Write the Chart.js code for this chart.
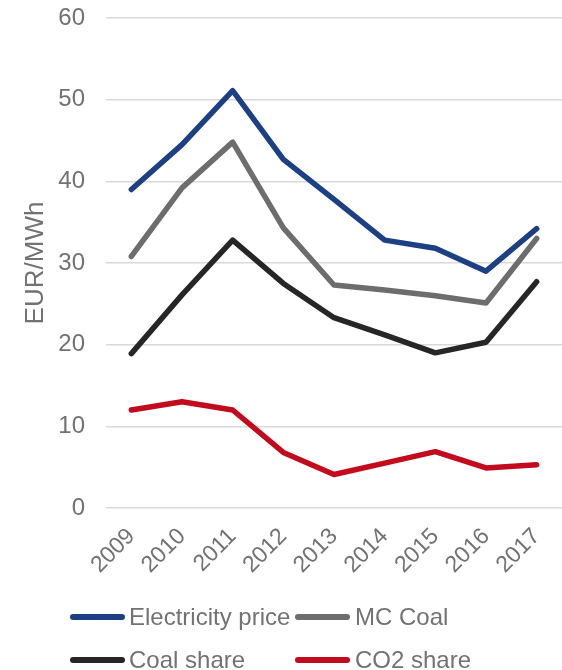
<!DOCTYPE html>
<html>
<head>
<meta charset="utf-8">
<script src="https://cdn.jsdelivr.net/npm/chart.js@4"></script>
<style>
  html, body { margin: 0; padding: 0; background: #ffffff; }
  #wrap { position: relative; width: 562px; height: 670px; }
  #c { position: absolute; left: 0; top: 0; }
  .leg { position: absolute; font-family: "Liberation Sans", Arial, sans-serif; font-size: 24px; color: #727272; white-space: nowrap; line-height: 1; }
  .sw { position: absolute; height: 6px; border-radius: 3px; }
</style>
</head>
<body>
<div id="wrap">
  <canvas id="c" width="562" height="670"></canvas>
  <div id="legend"></div>
</div>
<script>
const years = ["2009","2010","2011","2012","2013","2014","2015","2016","2017"];
const electricityPrice = [39.0, 44.5, 51.1, 42.7, 37.8, 32.8, 31.8, 29.0, 34.2];
const mcCoal = [30.8, 39.2, 44.8, 34.3, 27.3, 26.7, 26.0, 25.1, 33.0];
const coalShare = [18.9, 26.1, 32.8, 27.5, 23.3, 21.2, 19.0, 20.3, 27.7];
const co2Share = [12.0, 13.0, 12.0, 6.8, 4.1, 5.5, 6.9, 4.9, 5.3];
const seriesNames = ["Electricity price", "MC Coal", "Coal share", "CO2 share"];
const seriesColors = ["#1d3f84", "#6d6d6d", "#262626", "#c20b1d"];
const yTicks = [0, 10, 20, 30, 40, 50, 60];

const FONT = "'Liberation Sans', Arial, sans-serif";
const TXT = "#727272";

const seriesData = [electricityPrice, mcCoal, coalShare, co2Share];
const datasets = seriesData.map((d, i) => ({
  label: seriesNames[i],
  data: d,
  borderColor: seriesColors[i],
  backgroundColor: seriesColors[i],
  borderWidth: 5.5,
  pointRadius: 0,
  tension: 0,
  fill: false,
  borderCapStyle: 'round',
  borderJoinStyle: 'round'
}));

new Chart(document.getElementById('c'), {
  type: 'line',
  data: { labels: years, datasets: datasets },
  options: {
    responsive: false,
    animation: false,
    layout: { padding: { top: 18, right: 0, bottom: 92, left: 0 } },
    plugins: { legend: { display: false }, tooltip: { enabled: false } },
    scales: {
      x: {
        offset: true,
        grid: { display: false, drawTicks: false },
        border: { display: false },
        ticks: {
          color: TXT,
          font: { family: FONT, size: 23 },
          minRotation: 45, maxRotation: 45,
          padding: 15,
          autoSkip: false
        },
        afterFit: (s) => { s.height = 70; s.paddingLeft = 0; s.paddingRight = 0; }
      },
      y: {
        min: 0, max: 60,
        afterBuildTicks: (s) => { s.ticks = yTicks.map(v => ({ value: v })); },
        grid: { color: '#d9d9d9', lineWidth: 1.5, drawTicks: false },
        border: { display: false },
        ticks: { color: TXT, font: { family: FONT, size: 24 }, padding: 21 },
        title: { display: true, text: 'EUR/MWh', color: TXT, font: { family: FONT, size: 26 }, padding: { top: 20, bottom: 0 } },
        afterFit: (s) => { s.width = 106; s.paddingTop = 0; s.paddingBottom = 0; }
      }
    }
  }
});

// HTML legend built from the series names/colours
const legendPos = [
  { lx: 70, ly: 617, tx: 129 },
  { lx: 295, ly: 617, tx: 355 },
  { lx: 70, ly: 660, tx: 129 },
  { lx: 295, ly: 660, tx: 355 }
];
const legEl = document.getElementById('legend');
seriesNames.forEach((n, i) => {
  const p = legendPos[i];
  const sw = document.createElement('div');
  sw.className = 'sw';
  sw.style.left = p.lx + 'px';
  sw.style.top = (p.ly - 3) + 'px';
  sw.style.width = '55px';
  sw.style.background = seriesColors[i];
  legEl.appendChild(sw);
  const t = document.createElement('div');
  t.className = 'leg';
  t.style.left = p.tx + 'px';
  t.style.top = (p.ly - 12) + 'px';
  t.textContent = n;
  legEl.appendChild(t);
});
</script>
</body>
</html>
